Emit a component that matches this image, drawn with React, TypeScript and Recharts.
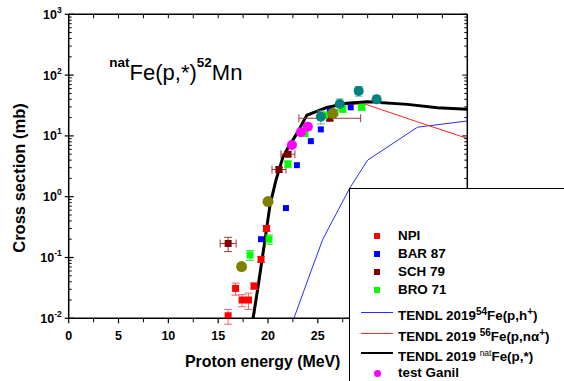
import { ComposedChart, Line, Scatter, XAxis, YAxis, ErrorBar } from "recharts";

const W = 564;
const H = 381;
const FONT = '"Liberation Sans", Arial, sans-serif';
const LEGEND_LEFT = 349;
const LEGEND_TOP = 188;

// axis ticks
const X_TICKS = [0, 2.5, 5, 7.5, 10, 12.5, 15, 17.5, 20, 22.5, 25, 27.5, 30, 32.5, 35, 37.5, 40];
const DECADES = [0.01, 0.1, 1, 10, 100, 1000];
const MINOR_MULT = [2, 3, 4, 5, 6, 7, 8, 9];
const Y_TICKS = [
  ...DECADES,
  ...DECADES.slice(0, -1).flatMap((d) => MINOR_MULT.map((m) => +(d * m).toPrecision(3))),
].sort((a, b) => a - b);

// TENDL 2019 natFe(p,*)
const natE = [18.5, 19, 19.7, 20.2, 20.8, 21.5, 22, 22.9, 23.9, 25.9, 27.9, 30, 34, 37, 40];
const natXs = [0.01, 0.033, 0.195, 0.73, 1.88, 4.5, 6.3, 11, 22, 29.5, 34.4, 36.5, 33, 29, 27.5];

// TENDL 2019 56Fe(p,n alpha)
const fe56E = [18.6, 19.7, 20.2, 20.8, 21.5, 22.9, 23.9, 25.9, 27.9, 29.7, 35, 40];
const fe56Xs = [0.01, 0.185, 0.7, 1.78, 4.3, 10.5, 21, 28.3, 32.8, 33.5, 17, 9.1];

// TENDL 2019 54Fe(p,h)
const fe54E = [22.6, 24, 25.5, 28.2, 30, 35, 40];
const fe54Xs = [0.01, 0.043, 0.2, 1.38, 4.0, 13.9, 17.6];

// NPI
const npiE = [16.0, 16.75, 17.4, 18.05, 18.6, 19.3, 19.85];
const npiXs = [0.011, 0.031, 0.02, 0.02, 0.034, 0.093, 0.3];
const npiErr = [0.003, 0.007, 0.0045, 0.006, 0.004, 0.01, 0.03];

// BAR 87
const barE = [19.3, 21.8, 22.9, 24.3, 25.3, 26.2, 28.3];
const barXs = [0.2, 0.65, 3.3, 8.2, 12.8, 26, 29.5];

// SCH 79
const schE = [16.0, 21.1, 22.0, 26.2];
const schXs = [0.17, 2.8, 5.0, 19.5];
const schErrE = [0.8, 0.7, 0.7, 3.1];
const schErr = [0.045, 0.25, 0.45, 1.5];

// BRO 71
const broE = [18.2, 20.1, 22.0, 23.7, 25.7, 26.7, 27.5, 29.4];
const broXs = [0.11, 0.2, 3.45, 11, 22, 24, 27.4, 29.5];
const broErr = [0.02, 0.035, 0.4, 1.2, 2.2, 2.4, 2.7, 3];

// olive circles (no legend entry)
const oliveE = [17.35, 20.0, 26.5];
const oliveXs = [0.071, 0.83, 23.5];

// test Ganil
const ganilE = [22.4, 23.3, 24.0];
const ganilXs = [7.1, 11.5, 14.2];

// teal circles (no legend entry)
const tealE = [25.3, 27.2, 29.1, 30.9];
const tealXs = [20.7, 33.5, 55, 40];
const tealErr = [5, 7, 10, 6];

const pts = (e: number[], v: number[]) => e.map((x, i) => ({ x, y: v[i] }));
const ptsErr = (e: number[], v: number[], err: number[]) =>
  e.map((x, i) => ({ x, y: v[i], ey: err[i] }));

const natData = pts(natE, natXs);
const fe56Data = pts(fe56E, fe56Xs);
const fe54Data = pts(fe54E, fe54Xs);
const npiData = ptsErr(npiE, npiXs, npiErr);
const barData = pts(barE, barXs);
const schData = schE.map((x, i) => ({ x, y: schXs[i], ex: schErrE[i], ey: schErr[i] }));
const broData = ptsErr(broE, broXs, broErr);
const oliveData = pts(oliveE, oliveXs);
const ganilData = pts(ganilE, ganilXs);
const tealData = ptsErr(tealE, tealXs, tealErr);

const square = (color: string, s: number) => (p: any) => (
  <rect x={p.cx - s / 2} y={p.cy - s / 2} width={s} height={s} fill={color} />
);
const circle = (color: string, r: number) => (p: any) => (
  <circle cx={p.cx} cy={p.cy} r={r} fill={color} />
);

const LeftTick = (p: any) => {
  const v = p.payload.value;
  const { x, y } = p;
  if (!DECADES.includes(v)) {
    return <line x1={x} x2={x + 3} y1={y} y2={y} stroke="#000" strokeWidth={1} />;
  }
  const exp = Math.round(Math.log10(v));
  return (
    <g>
      <line x1={x - 4} x2={x + 5} y1={y} y2={y} stroke="#000" strokeWidth={1.2} />
      <text x={x - 7} y={y + 4.5} textAnchor="end" fontSize={12.5} fontWeight="bold" fill="#000" fontFamily={FONT}>
        10
        <tspan dy={-6} fontSize={8.5}>
          {exp}
        </tspan>
      </text>
    </g>
  );
};

const RightTick = (p: any) => {
  const v = p.payload.value;
  const len = DECADES.includes(v) ? 5 : 3;
  return <line x1={p.x - len} x2={p.x} y1={p.y} y2={p.y} stroke="#000" strokeWidth={1} />;
};

const BottomTick = (p: any) => {
  const v = p.payload.value;
  const { x, y } = p;
  if (v % 5 !== 0) return <line x1={x} x2={x} y1={y} y2={y + 4} stroke="#000" strokeWidth={1} />;
  // labels that sit under the legend box are hidden by it anyway
  const showLabel = x < LEGEND_LEFT - 8;
  return (
    <g>
      <line x1={x} x2={x} y1={y} y2={y + 5} stroke="#000" strokeWidth={1.2} />
      {showLabel && (
        <text x={x} y={y + 21.5} textAnchor="middle" fontSize={12.5} fontWeight="bold" fill="#000" fontFamily={FONT}>
          {v}
        </text>
      )}
    </g>
  );
};

const TopTick = (p: any) => (
  <line x1={p.x} x2={p.x} y1={p.y} y2={p.y + 4} stroke="#000" strokeWidth={1} />
);

const axisLine = { stroke: "#000", strokeWidth: 1.5 };
const sup = { fontSize: 10 };

const legendRows = [
  { kind: "sq", color: "#ff0000", y: 47, label: <>NPI</> },
  { kind: "sq", color: "#0000ff", y: 65, label: <>BAR 87</> },
  { kind: "sq", color: "#800000", y: 83, label: <>SCH 79</> },
  { kind: "sq", color: "#00ff00", y: 101, label: <>BRO 71</> },
  {
    kind: "ln", color: "#2b2bff", w: 1, y: 123,
    label: <>TENDL 2019<sup style={sup}>54</sup>Fe(p,h<sup style={sup}>+</sup>)</>,
  },
  {
    kind: "ln", color: "#ff3030", w: 1, y: 144,
    label: <>TENDL 2019 <sup style={sup}>56</sup>Fe(p,nα<sup style={sup}>+</sup>)</>,
  },
  {
    kind: "ln", color: "#000", w: 2.5, y: 164,
    label: <>TENDL 2019 <sup style={{ fontSize: 8.5, fontWeight: "normal" }}>nat</sup>Fe(p,*)</>,
  },
  { kind: "ci", color: "#ff00ff", y: 184, label: <>test Ganil</> },
];

export default function App() {
  return (
    <div style={{ position: "absolute", left: 0, top: 0, width: W, height: H, background: "#fff", overflow: "hidden", fontFamily: FONT }}>
      <ComposedChart width={W} height={H} margin={{ top: 4.3, right: 86.7, bottom: 32.7, left: 18.7 }}>
        <XAxis
          xAxisId="b" dataKey="x" type="number" domain={[0, 40]} allowDataOverflow
          ticks={X_TICKS} interval={0} height={30} tickSize={0} tickMargin={0}
          tickLine={false} tick={BottomTick} axisLine={axisLine}
        />
        <XAxis
          xAxisId="t" orientation="top" dataKey="x" type="number" domain={[0, 40]} allowDataOverflow
          ticks={X_TICKS} interval={0} height={10} tickSize={0} tickMargin={0}
          tickLine={false} tick={TopTick} axisLine={axisLine}
        />
        <YAxis
          yAxisId="l" dataKey="y" type="number" scale="log" domain={[0.01, 1000]} allowDataOverflow
          ticks={Y_TICKS} interval={0} width={50} tickSize={0} tickMargin={0}
          tickLine={false} tick={LeftTick} axisLine={axisLine}
        />
        <YAxis
          yAxisId="r" orientation="right" dataKey="y" type="number" scale="log" domain={[0.01, 1000]} allowDataOverflow
          ticks={Y_TICKS} interval={0} width={10} tickSize={0} tickMargin={0}
          tickLine={false} tick={RightTick} axisLine={axisLine}
        />

        <Line xAxisId="b" yAxisId="l" data={fe54Data} dataKey="y" type="linear" stroke="#2b2bff" strokeWidth={1} dot={false} isAnimationActive={false} />
        <Line xAxisId="b" yAxisId="l" data={fe56Data} dataKey="y" type="linear" stroke="#ff2020" strokeWidth={1} dot={false} isAnimationActive={false} />
        <Line xAxisId="b" yAxisId="l" data={natData} dataKey="y" type="linear" stroke="#000" strokeWidth={3} dot={false} isAnimationActive={false} />

        <Scatter xAxisId="b" yAxisId="l" data={npiData} dataKey="y" shape={square("#ff0000", 7)} isAnimationActive={false}>
          <ErrorBar dataKey="ey" direction="y" width={4} stroke="#ff6060" strokeWidth={1} />
        </Scatter>
        <Scatter xAxisId="b" yAxisId="l" data={barData} dataKey="y" shape={square("#0000ff", 6)} isAnimationActive={false} />
        <Scatter xAxisId="b" yAxisId="l" data={schData} dataKey="y" shape={square("#800000", 7)} isAnimationActive={false}>
          <ErrorBar dataKey="ex" direction="x" width={4} stroke="#a03838" strokeWidth={1} />
          <ErrorBar dataKey="ey" direction="y" width={4} stroke="#a03838" strokeWidth={1} />
        </Scatter>
        <Scatter xAxisId="b" yAxisId="l" data={broData} dataKey="y" shape={square("#00ff00", 7)} isAnimationActive={false}>
          <ErrorBar dataKey="ey" direction="y" width={4} stroke="#30e030" strokeWidth={1} />
        </Scatter>
        <Scatter xAxisId="b" yAxisId="l" data={oliveData} dataKey="y" shape={circle("#808000", 5.5)} isAnimationActive={false} />
        <Scatter xAxisId="b" yAxisId="l" data={ganilData} dataKey="y" shape={circle("#ff00ff", 5)} isAnimationActive={false} />
        <Scatter xAxisId="b" yAxisId="l" data={tealData} dataKey="y" shape={circle("#008080", 5)} isAnimationActive={false}>
          <ErrorBar dataKey="ey" direction="y" width={4} stroke="#60b0b0" strokeWidth={1} />
        </Scatter>
      </ComposedChart>

      <svg width={W} height={H} style={{ position: "absolute", left: 0, top: 0, pointerEvents: "none" }}>
        <text x={109.3} y={80} fontSize={22} fill="#000" fontFamily={FONT}>
          <tspan fontSize={13.5} fontWeight="bold" dy={-13}>nat</tspan>
          <tspan dy={13}>Fe(p,*)</tspan>
          <tspan fontSize={13.5} fontWeight="bold" dy={-13}>52</tspan>
          <tspan dy={13}>Mn</tspan>
        </text>
        <text x={185} y={367.3} fontSize={15.9} fontWeight="bold" fill="#000" fontFamily={FONT}>
          Proton energy (MeV)
        </text>
        <text
          x={25} y={178} transform="rotate(-90 25 178)" textAnchor="middle"
          fontSize={16.5} fontWeight="bold" fill="#000" fontFamily={FONT}
        >
          Cross section (mb)
        </text>
      </svg>

      <div
        style={{
          position: "absolute", left: LEGEND_LEFT, top: LEGEND_TOP, width: 240, height: 220,
          border: "1px solid #000", background: "#fff", boxSizing: "border-box",
        }}
      >
        {legendRows.map((r, i) => (
          <div key={i}>
            {r.kind === "sq" && (
              <div style={{ position: "absolute", left: 24, top: r.y - 3, width: 6, height: 6, background: r.color }} />
            )}
            {r.kind === "ci" && (
              <div style={{ position: "absolute", left: 23.5, top: r.y - 3.5, width: 7, height: 7, borderRadius: "50%", background: r.color }} />
            )}
            {r.kind === "ln" && (
              <div style={{ position: "absolute", left: 11, top: r.y - (r.w ?? 1) / 2, width: 32, height: r.w, background: r.color }} />
            )}
            <div
              style={{
                position: "absolute", left: 48, top: r.y - 9, height: 18, lineHeight: "18px",
                fontSize: 13.4, fontWeight: "bold", color: "#000", whiteSpace: "nowrap",
              }}
            >
              {r.label}
            </div>
          </div>
        ))}
      </div>
    </div>
  );
}
